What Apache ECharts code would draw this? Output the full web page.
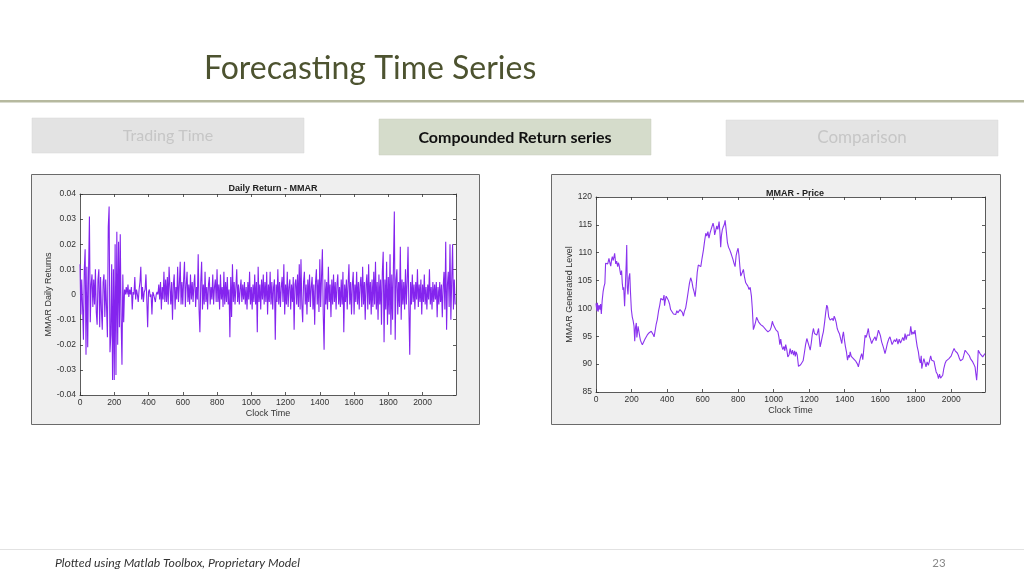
<!DOCTYPE html>
<html><head><meta charset="utf-8">
<script src="https://cdn.jsdelivr.net/npm/echarts/dist/echarts.min.js"></script>
<style>html,body{margin:0;padding:0;background:#fff}#c{width:1024px;height:576px}</style>
</head><body><div id="c"></div><script>
// ---------- text ----------
const slideTitle = 'Forecasting Time Series';
const tabLabels = ['Trading Time', 'Compounded Return series', 'Comparison'];
const footerText = 'Plotted using Matlab Toolbox, Proprietary Model';
const pageNumber = '23';
const returnTitle = 'Daily Return - MMAR';
const priceTitle = 'MMAR - Price';
const xAxisName = 'Clock Time';
const returnYName = 'MMAR Daily Returns';
const priceYName = 'MMAR Generated Level';

// ---------- axis ticks ----------
const xTicks = [0, 200, 400, 600, 800, 1000, 1200, 1400, 1600, 1800, 2000];
const returnYTicks = [-0.04, -0.03, -0.02, -0.01, 0, 0.01, 0.02, 0.03, 0.04];
const priceYTicks = [85, 90, 95, 100, 105, 110, 115, 120];

// ---------- daily returns (one value every 5 clock units) ----------
const returnStep = 5;
const returns = [
 0.012,-0.008,0.006,-0.005,-0.018,0.010,0.018,-0.024,0.011,-0.021,0.009,0.031,-0.011,0.004,0.008,-0.005,0.006,-0.004,0.010,-0.007,
 -0.012,0.006,0.010,-0.013,0.007,-0.006,-0.014,0.005,0.008,-0.009,0.006,-0.005,-0.017,0.027,0.035,-0.023,-0.016,0.012,-0.034,0.010,
 -0.034,0.020,-0.032,0.025,-0.020,0.021,-0.013,0.024,-0.010,-0.028,0.008,-0.011,0.002,0,0.003,0,0.004,-0.001,0.002,0,
 0.003,-0.006,0.001,0,0.007,-0.002,0.002,0,-0.003,0.002,0.005,0.011,-0.002,0.003,-0.003,0.001,0.002,0.008,-0.002,-0.013,
 0.001,0.002,-0.001,0,-0.008,0.001,0,0,-0.003,0,0.001,0,0.004,-0.002,0.005,-0.006,0.003,-0.002,0.009,-0.003,
 0.006,-0.003,0.007,-0.004,0.011,0.003,-0.004,0.005,-0.010,0.004,0.008,-0.006,0.003,-0.002,0.011,-0.003,0.004,0.013,-0.004,0.005,
 -0.004,0.006,0.013,-0.005,0.004,0.009,-0.003,0.004,-0.004,0.008,-0.002,0.005,-0.003,0.004,0.008,-0.005,0.003,-0.002,0.016,-0.006,
 -0.015,0.005,0.013,-0.006,0.004,-0.004,0.009,-0.003,0.003,-0.006,0.004,0.007,-0.004,0.003,-0.002,0.008,-0.004,0.003,0.006,-0.003,
 0.010,-0.003,0.004,-0.006,0.008,-0.002,0.003,-0.005,0.009,-0.004,0.005,-0.003,0.007,-0.004,0.002,-0.017,0.007,-0.009,0.012,-0.003,
 0.005,-0.004,0.003,0.010,-0.003,0.004,-0.004,0.002,0.006,-0.003,0.004,-0.002,0.005,-0.004,0.003,-0.006,0.005,-0.002,0.009,-0.004,
 0.003,-0.006,0.004,-0.003,0.008,-0.004,0.005,-0.015,0.011,-0.003,0.004,-0.006,0.006,-0.002,0.008,-0.004,0.005,-0.003,0.009,-0.008,
 0.004,-0.003,0.009,-0.004,0.005,-0.006,0.003,0.006,-0.018,0.004,-0.003,0.010,-0.004,0.005,-0.005,0.003,0.007,-0.003,0.012,-0.008,
 0.004,-0.004,0.009,-0.005,0.003,0.006,-0.006,0.004,-0.003,0.007,-0.014,0.004,0.006,-0.004,0.008,-0.005,0.012,-0.006,0.014,-0.004,
 -0.011,0.005,0.009,-0.004,0.004,-0.008,0.006,-0.003,0.008,-0.005,0.003,0.007,-0.006,0.004,-0.012,0.005,0.010,-0.004,0.006,-0.007,
 0.014,-0.005,0.007,0.018,-0.008,-0.022,0.006,-0.004,0.005,-0.006,0.011,-0.003,0.004,-0.009,0.006,-0.004,0.008,-0.003,0.005,-0.006,
 0.004,0.008,-0.004,0.003,-0.005,0.006,-0.004,0.009,-0.015,0.004,-0.003,0.006,-0.006,0.004,0.012,-0.004,0.005,-0.008,0.004,0.009,
 -0.008,0.004,-0.003,0.009,-0.004,0.005,-0.006,0.004,0.007,-0.005,0.011,-0.004,0.005,-0.010,0.004,0.008,-0.006,0.012,-0.004,0.005,
 -0.008,0.006,-0.005,0.009,-0.004,0.013,-0.006,0.005,-0.010,0.008,-0.004,0.006,-0.012,0.009,0.017,-0.019,0.006,-0.006,0.013,-0.012,
 0.007,-0.008,0.016,-0.016,0.008,-0.010,0.012,0.033,-0.018,0.006,0.010,-0.008,0.005,-0.005,0.019,-0.010,0.006,-0.004,0.005,-0.006,
 0.010,-0.004,0.005,0.019,-0.006,-0.024,0.005,-0.004,0.008,-0.003,0.004,-0.006,0.005,-0.002,0.010,-0.005,0.004,-0.003,0.006,-0.008,
 0.004,-0.003,0.008,-0.004,0.003,-0.006,0.004,-0.002,0.010,-0.004,0.003,-0.006,0.005,-0.003,0.004,-0.002,0.005,-0.009,0.003,-0.004,
 0.005,-0.003,0.004,-0.009,0.003,0.009,-0.006,0.021,-0.014,0.004,0.009,-0.005,0.020,-0.010,0.006,0.020,-0.006,0.006,-0.004
];

// ---------- price level ----------
const priceTimes = [0,5,8,12,17,22,26,30,35,40,45,50,54,60,66,73,78,83,88,92,97,105,111,116,122,126,130,135,139,144,148,152,156,161,166,170,173,176,180,185,190,194,199,204,209,214,218,222,227,230,233,237,242,246,250,255,261,266,270,276,282,288,293,298,305,311,317,322,327,333,339,345,352,359,365,371,377,383,386,389,395,402,408,414,420,428,436,442,449,455,461,467,473,480,486,492,498,505,512,519,526,533,540,546,552,558,564,570,576,583,590,597,605,611,618,624,630,636,642,648,654,659,664,668,674,680,686,693,698,702,706,711,716,722,727,733,740,746,752,759,765,771,777,783,789,794,800,805,810,815,822,830,836,843,849,855,862,868,875,880,886,892,898,904,909,915,921,927,933,940,948,956,962,968,974,980,986,993,998,1005,1012,1018,1024,1030,1035,1040,1046,1052,1058,1063,1068,1074,1080,1087,1093,1100,1106,1112,1118,1122,1127,1133,1140,1146,1152,1159,1166,1173,1180,1187,1193,1200,1206,1212,1218,1224,1230,1237,1243,1248,1253,1258,1262,1268,1274,1280,1287,1293,1299,1304,1310,1318,1324,1330,1336,1341,1346,1352,1358,1365,1371,1377,1384,1388,1393,1398,1404,1410,1416,1422,1427,1431,1437,1443,1449,1455,1461,1467,1472,1477,1483,1490,1496,1502,1508,1515,1521,1527,1533,1539,1545,1552,1558,1565,1571,1577,1584,1590,1596,1602,1608,1614,1620,1627,1634,1641,1648,1655,1661,1667,1674,1680,1686,1693,1700,1707,1714,1721,1727,1734,1740,1746,1752,1759,1766,1772,1778,1784,1790,1796,1802,1808,1815,1820,1826,1831,1834,1840,1846,1852,1858,1864,1871,1877,1884,1890,1896,1903,1909,1915,1922,1928,1934,1940,1946,1952,1958,1965,1972,1980,1987,1993,2000,2008,2016,2022,2028,2034,2040,2046,2052,2059,2065,2071,2078,2084,2090,2096,2102,2108,2115,2121,2127,2134,2138,2143,2147,2152,2157,2162,2170,2177,2184,2190];
const priceValues = [100.9,99.6,101,99.4,100.6,99.8,100.8,99,101.5,103,103.9,104.5,108.1,108.3,108,109,108.2,107.6,108.8,109.3,108.6,109.9,108,108.5,107.5,108.2,107.8,106.8,106,106.8,104.5,103.3,103.8,100.4,104.5,108,111.4,103.9,102.5,105.5,106.3,103,99.8,98.5,97.8,96.8,94.1,96.5,97.4,94.8,95.6,96.8,97.1,95,94.3,93.9,93.5,93.6,93.8,94.5,94.8,95.2,95,95.6,95.4,95.9,95.9,95.3,94.9,96,97.2,98,99.5,100.6,101.8,102,101.5,102.4,100.5,101.2,102.2,101.8,101.4,100.8,99.8,99.4,99,98.8,98.9,99.6,99.2,99.2,99.8,99.8,99.3,98.6,99.5,100.1,101.5,103,104.5,105.5,104.8,103.7,103,102.1,104,106.5,107.8,107.8,107.5,109,110.5,112,113.5,113,113.8,112.6,113.5,114.2,114.8,115.3,114.6,113.2,114,114.8,114.2,115.6,113.5,111,113,114.1,114.6,115,115.8,114,111.8,111,110.6,110,109.4,108.8,108.1,107.5,109.5,110.2,110.8,109.5,107.5,105.8,106,107,105.6,104.6,104.8,104,103.4,103.8,102.2,100,96.2,96.8,97.5,98.4,98.3,97.6,97.8,97.1,97.4,96.8,96.6,96.2,96.4,95.8,95.9,96.1,96.6,97.7,97.1,97.2,96.2,96,95.8,94.8,93.5,94.5,93.2,92.6,93.2,92.4,93.5,92.6,91.3,91.7,92.8,91.8,92.5,91.6,92.4,91.4,92.2,91.6,89.6,89.7,89.9,89.8,90.6,92,93.5,94.6,94.3,93.2,92.5,93.8,95.4,96.4,95.5,95.8,95.2,95.8,96.4,94.5,93.1,94,95,95.8,97.5,99.2,100.6,100.2,98.5,97.9,97.6,98.2,97.8,98.6,98.2,97.5,96.4,95.8,95.4,95.6,93.7,95,95.8,94.5,93.2,92.2,90.7,91.6,91.2,92.2,91.4,91.2,91,91.1,90.6,90.4,90,89.5,90.4,91.3,91.9,90.8,92.8,95.2,94.8,95.5,96.4,95,94.5,93.7,94.2,94.4,94.9,94.2,95.2,96.1,95.6,95,94,93.4,92.8,91.9,92.8,93.8,94.5,94.9,94.2,93.5,93.7,94.4,94,94.6,93.6,94.5,93.8,94.3,94.8,94.2,95.5,94.4,95.2,94.9,95.2,96.8,95.3,95.8,95.4,96.1,94.5,93.2,92.2,91,90.2,91.5,89.2,90.2,91,90.7,89.5,90.4,89.8,90.5,91.5,90.7,91,90.5,89.5,88.6,88.2,87.4,88.2,87.5,87.4,88,89.2,90.1,90.6,90.3,91,90.7,91.5,92.2,92.8,92.4,92.6,92,91.6,91,90.6,90.4,90.9,91.6,92.5,92.3,92,91.9,91.5,91,90.7,90.4,90,89.5,88.4,87.1,89,92.5,92.2,91.9,91.6,91.3,91.6,91.9];

// ---------- build ----------
const FONT = 'Liberation Sans';
const returnColor = '#8424ee';
const priceColor = '#8a34ee';
const chart = echarts.init(document.getElementById('c'), null, {renderer: 'canvas'});

const tickStyle = {inside: true, length: 3, lineStyle: {color: '#333', width: 0.8}};
const lineStyleAxis = {show: true, onZero: false, lineStyle: {color: '#333', width: 0.8}};

function xAxes(grid, max) {
  const base = {type: 'value', gridIndex: grid, min: 0, max: max, interval: 200,
    splitLine: {show: false}, axisLine: lineStyleAxis, axisTick: tickStyle};
  return [
    Object.assign({}, base, {position: 'bottom', name: xAxisName, nameLocation: 'middle', nameGap: 14,
      nameTextStyle: {fontFamily: FONT, fontSize: 9, color: '#333'},
      axisLabel: {fontFamily: FONT, fontSize: 8.5, color: '#333', margin: 3, showMaxLabel: false,
        formatter: v => xTicks.includes(v) ? String(v) : ''}}),
    Object.assign({}, base, {position: 'top', axisLabel: {show: false}})
  ];
}
function yAxes(grid, min, max, interval, name, ticks, gap) {
  const base = {type: 'value', gridIndex: grid, min: min, max: max, interval: interval,
    splitLine: {show: false}, axisLine: lineStyleAxis, axisTick: tickStyle};
  return [
    Object.assign({}, base, {position: 'left', name: name, nameLocation: 'middle', nameGap: gap,
      nameTextStyle: {fontFamily: FONT, fontSize: 9, color: '#333'},
      axisLabel: {fontFamily: FONT, fontSize: 8.5, color: '#333', margin: 4,
        formatter: v => { const t = ticks.find(k => Math.abs(k - v) < 1e-9); return t === undefined ? '' : String(t); }}}),
    Object.assign({}, base, {position: 'right', axisLabel: {show: false}})
  ];
}

const option = {
  animation: false,
  backgroundColor: '#fff',
  title: [
    {text: returnTitle, left: 268, top: 179, textAlign: 'center',
      textStyle: {fontFamily: FONT, fontSize: 9, fontWeight: 'bold', color: '#222'}},
    {text: priceTitle, left: 790, top: 184, textAlign: 'center',
      textStyle: {fontFamily: FONT, fontSize: 9, fontWeight: 'bold', color: '#222'}}
  ],
  graphic: [
    {type: 'text', left: 204, top: 53, z: 10, style: {text: slideTitle, fontFamily: 'Lato', fontSize: 32, fill: '#4d5330'}},
    {type: 'rect', shape: {x: 0, y: 100, width: 1024, height: 2.5}, style: {fill: '#b6b99f'}},
    {type: 'rect', shape: {x: 32, y: 118, width: 272, height: 35}, style: {fill: '#e3e3e3', stroke: '#d6d6d6', lineWidth: 0.5}},
    {type: 'text', x: 168, y: 136, style: {text: tabLabels[0], fontFamily: 'Lato', fontSize: 16, fill: '#c6c6c6', textAlign: 'center', textVerticalAlign: 'middle'}},
    {type: 'rect', shape: {x: 379, y: 119, width: 272, height: 36}, style: {fill: '#d5dccb', stroke: '#c8cfbd', lineWidth: 0.5}},
    {type: 'text', x: 515, y: 137.5, style: {text: tabLabels[1], fontFamily: 'Lato', fontSize: 16, fontWeight: 'bold', fill: '#111', textAlign: 'center', textVerticalAlign: 'middle'}},
    {type: 'rect', shape: {x: 726, y: 120, width: 272, height: 36}, style: {fill: '#e4e4e4', stroke: '#d8d8d8', lineWidth: 0.5}},
    {type: 'text', x: 862, y: 138, style: {text: tabLabels[2], fontFamily: 'Lato', fontSize: 17, fill: '#c6c6c6', textAlign: 'center', textVerticalAlign: 'middle'}},
    {type: 'rect', z: -5, shape: {x: 31.5, y: 174.5, width: 448, height: 250}, style: {fill: '#efefef', stroke: '#6a6a6a', lineWidth: 1}},
    {type: 'rect', z: -5, shape: {x: 551.5, y: 174.5, width: 449, height: 250}, style: {fill: '#efefef', stroke: '#6a6a6a', lineWidth: 1}},
    {type: 'rect', shape: {x: 0, y: 549, width: 1024, height: 1}, style: {fill: '#e2e2e2'}},
    {type: 'text', x: 55, y: 563, style: {text: footerText, fontFamily: 'Lato', fontSize: 12.3, fontStyle: 'italic', fill: '#333', textVerticalAlign: 'middle'}},
    {type: 'text', x: 939, y: 563, style: {text: pageNumber, fontFamily: 'Lato', fontSize: 11.5, fill: '#888', textAlign: 'center', textVerticalAlign: 'middle'}}
  ],
  grid: [
    {left: 80, right: 1024 - 456, top: 194, bottom: 576 - 395, show: true, backgroundColor: '#fff', borderWidth: 0},
    {left: 596, right: 1024 - 985, top: 197, bottom: 576 - 392, show: true, backgroundColor: '#fff', borderWidth: 0}
  ],
  xAxis: [...xAxes(0, 2195), ...xAxes(1, 2190)],
  yAxis: [...yAxes(0, -0.04, 0.04, 0.01, returnYName, returnYTicks, 26),
          ...yAxes(1, 85, 120, 5, priceYName, priceYTicks, 22)],
  series: [
    {type: 'line', xAxisIndex: 0, yAxisIndex: 0, symbol: 'none', silent: true,
      data: returns.map((v, i) => [i * returnStep, v]),
      lineStyle: {color: returnColor, width: 1.1}},
    {type: 'line', xAxisIndex: 2, yAxisIndex: 2, symbol: 'none', silent: true,
      data: priceTimes.map((t, i) => [t, priceValues[i]]),
      lineStyle: {color: priceColor, width: 1.1}}
  ]
};
chart.setOption(option);
</script></body></html>
